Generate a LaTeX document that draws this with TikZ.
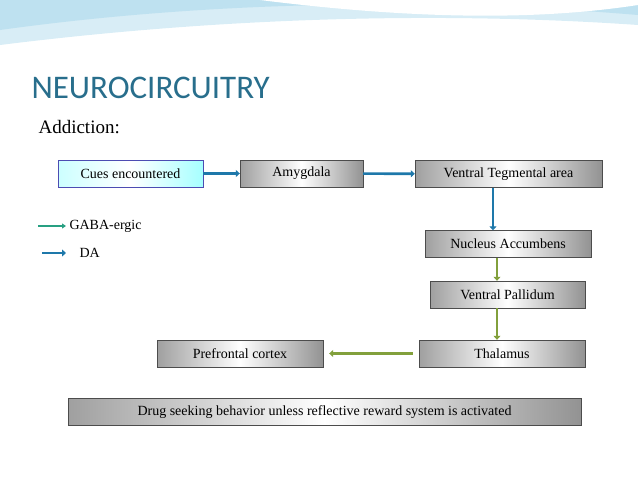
\documentclass[tikz,border=0pt]{standalone}
\usepackage{fontspec}
\setmainfont{Liberation Serif}
\newfontfamily\titlefont{Carlito}
\usetikzlibrary{positioning, calc, arrows.meta}
\pgfdeclarehorizontalshading{greybox}{100bp}{color(0bp)=(gray!75); color(25bp)=(gray!75); color(50bp)=(white); color(75bp)=(gray!85); color(100bp)=(gray!85)}
\pgfdeclarehorizontalshading{cuebox}{100bp}{color(0bp)=(cyan!20); color(25bp)=(cyan!20); color(50bp)=(white); color(75bp)=(cyan!35); color(100bp)=(cyan!35)}
\tikzset{%
  box/.style = {draw=black!70, minimum height=27pt, inner sep=2pt,
                shading=greybox, font=\fontsize{14}{16}\selectfont},
  cue/.style = {box, draw=blue!40!gray, shading=cuebox},
  da/.style = {draw=dacol, line width=2.6pt, -{Triangle[length=4pt,width=7pt]}},
  gaba/.style = {draw=gabacol, line width=2.6pt, -{Triangle[length=4pt,width=7pt]}},
  legtext/.style = {anchor=west, font=\fontsize{14}{16}\selectfont}
  }
\definecolor{dacol}{RGB}{30,120,170}
\definecolor{gabacol}{RGB}{130,160,60}
\definecolor{legcol}{RGB}{40,160,130}
\definecolor{titlecol}{RGB}{40,110,140}
\definecolor{wave}{RGB}{190,225,240}
\begin{document}
\begin{tikzpicture}[x=1pt, y=-1pt]
    \useasboundingbox (0,0) rectangle (638,479);
    % background waves
    \fill[wave!60] (0,0) -- (0,45) .. controls (200,20) and (420,10) .. (638,25) -- (638,0) -- cycle;
    \fill[wave] (0,0) -- (0,30) .. controls (180,5) and (400,-5) .. (638,15) -- (638,0) -- cycle;
    \fill[white] (260,0) .. controls (420,20) and (540,20) .. (638,5) -- (638,0) -- cycle;

    \node (title) [anchor=west, text=titlecol, font=\titlefont\fontsize{33}{38}\selectfont]
          at (28,88) {NEUROCIRCUITRY};
    \node (addict) [anchor=west, font=\fontsize{19}{22}\selectfont] at (35,127) {Addiction:};

    \node (cues)      [cue, minimum width=145pt] at (130.5,173.5) {Cues encountered};
    \node (amyg)      [box, minimum width=123pt] at (301.5,173.5) {Amygdala};
    \node (vta)       [box, minimum width=187pt] at (508.5,174)   {Ventral Tegmental area};
    \node (nacc)      [box, minimum width=166pt] at (508,244)     {Nucleus Accumbens};
    \node (vpall)     [box, minimum width=155pt] at (507.5,294.5) {Ventral Pallidum};
    \node (thal)      [box, minimum width=166pt] at (502,353.5)   {Thalamus};
    \node (pfc)       [box, minimum width=166pt] at (240,353.5)   {Prefrontal cortex};
    \node (drug)      [box, minimum width=513pt] at (324.5,412)   {Drug seeking behavior unless reflective reward system is activated};

    \coordinate (gabaA) at (38,226);
    \coordinate (gabaB) at (66,226);
    \coordinate (daA)   at (42,253);
    \coordinate (daB)   at (66,253);
    \node (gabatxt) [legtext] at (66,226) {GABA-ergic};
    \node (datxt)   [legtext] at (76,253) {DA};

    \draw[da]   (cues) -- (amyg);
    \draw[da]   (amyg) -- (vta);
    \draw[da]   (vta.south -| 493,0) -- (nacc.north -| 493,0);
    \draw[gaba] (nacc.south -| 497,0) -- (vpall.north -| 497,0);
    \draw[gaba] (vpall.south -| 497,0) -- (thal.north -| 497,0);
    \draw[gaba] ([xshift=-6pt]thal.west) -- ([xshift=6pt]pfc.east);
    \draw[legcol, line width=2.2pt, -{Triangle[length=4pt,width=5pt]}] (gabaA) -- (gabaB);
    \draw[da] (daA) -- (daB);
\end{tikzpicture}
\end{document}
